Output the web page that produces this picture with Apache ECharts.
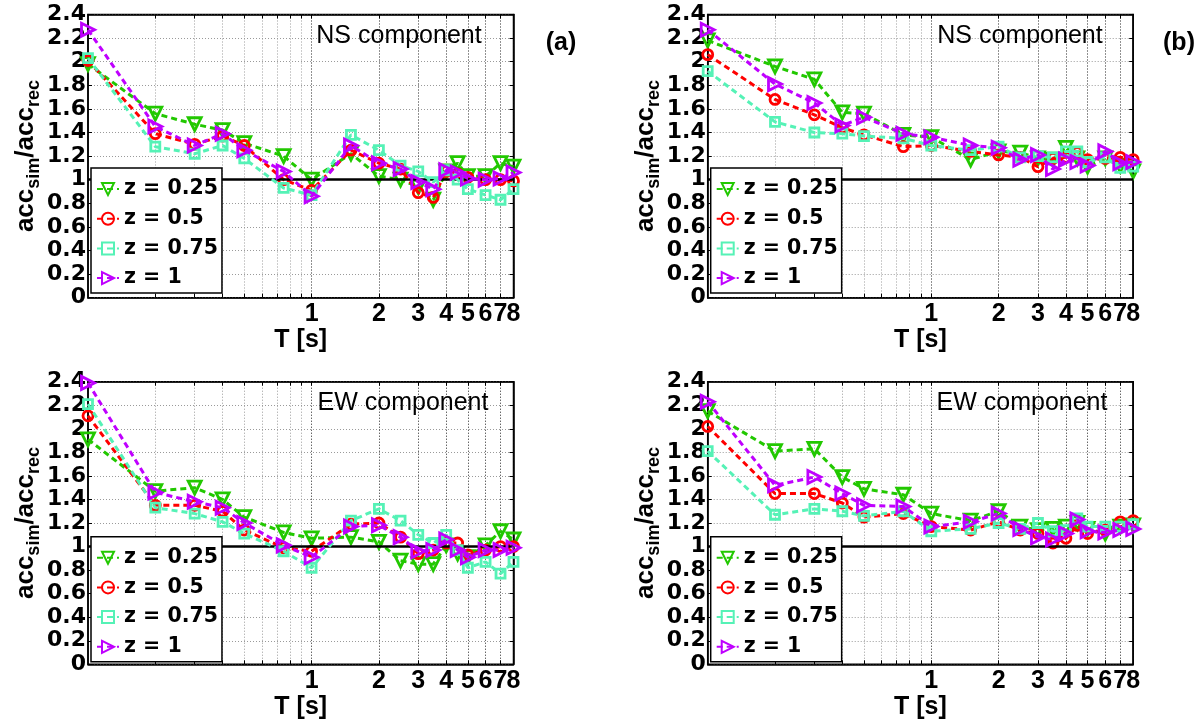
<!DOCTYPE html>
<html>
<head>
<meta charset="utf-8">
<script src="https://cdn.jsdelivr.net/npm/echarts@6/dist/echarts.min.js"></script>
<style>
html,body{margin:0;padding:0;background:#fff;}
#c{width:1204px;height:722px;}
</style>
</head>
<body>
<div id="c"></div>
<script>
// ---------------- data ----------------
const periods = [0.1, 0.2, 0.3, 0.4, 0.5, 0.75, 1, 1.5, 2, 2.5, 3, 3.5, 4, 4.5, 5, 6, 7, 8];
const seriesNames = ['z = 0.25', 'z = 0.5', 'z = 0.75', 'z = 1'];
const xTickLabels = [1, 2, 3, 4, 5, 6, 7, 8];
const xGridValues = [0.2, 0.3, 0.4, 0.5, 0.6, 0.7, 0.8, 0.9, 1, 2, 3, 4, 5, 6, 7, 8];
const panelTitles = ['NS component', 'NS component', 'EW component', 'EW component'];
const panelTags = ['(a)', '(b)', '', ''];

// panel (a) NS
const nsA_z025 = [1.98, 1.56, 1.47, 1.42, 1.31, 1.20, 1.00, 1.22, 1.03, 1.00, 0.94, 0.83, 1.07, 1.14, 1.03, 1.03, 1.14, 1.11];
const nsA_z050 = [2.01, 1.39, 1.30, 1.37, 1.29, 1.00, 0.91, 1.25, 1.14, 1.09, 0.89, 0.85, 1.07, 1.05, 1.02, 1.00, 1.00, 0.99];
const nsA_z075 = [2.03, 1.28, 1.22, 1.29, 1.18, 0.93, 0.87, 1.38, 1.25, 1.12, 1.07, 0.98, 1.08, 1.00, 0.92, 0.87, 0.83, 0.92];
const nsA_z100 = [2.27, 1.45, 1.29, 1.39, 1.25, 1.07, 0.86, 1.29, 1.14, 1.09, 0.98, 0.92, 1.08, 1.06, 1.01, 1.00, 1.01, 1.06];
// panel (b) NS
const nsB_z025 = [2.18, 1.96, 1.85, 1.57, 1.56, 1.38, 1.36, 1.17, 1.24, 1.23, 1.18, 1.17, 1.27, 1.18, 1.11, 1.18, 1.12, 1.07];
const nsB_z050 = [2.06, 1.68, 1.55, 1.44, 1.38, 1.28, 1.29, 1.24, 1.21, 1.19, 1.11, 1.18, 1.19, 1.23, 1.17, 1.18, 1.19, 1.17];
const nsB_z075 = [1.92, 1.49, 1.40, 1.39, 1.37, 1.35, 1.29, 1.25, 1.28, 1.19, 1.20, 1.19, 1.24, 1.24, 1.15, 1.19, 1.10, 1.11];
const nsB_z100 = [2.27, 1.81, 1.65, 1.46, 1.53, 1.39, 1.36, 1.29, 1.27, 1.17, 1.21, 1.09, 1.17, 1.15, 1.12, 1.24, 1.14, 1.15];
// panel (c) EW
const ewA_z025 = [1.91, 1.47, 1.50, 1.40, 1.25, 1.12, 1.07, 1.08, 1.04, 0.88, 0.85, 0.85, 1.01, 0.94, 0.91, 1.01, 1.13, 1.06];
const ewA_z050 = [2.11, 1.35, 1.35, 1.30, 1.14, 0.99, 0.96, 1.19, 1.20, 1.08, 0.94, 0.97, 1.03, 1.03, 0.93, 0.97, 1.00, 1.00];
const ewA_z075 = [2.21, 1.33, 1.28, 1.21, 1.11, 0.96, 0.82, 1.22, 1.32, 1.22, 1.10, 1.03, 1.10, 0.97, 0.82, 0.87, 0.77, 0.87];
const ewA_z100 = [2.39, 1.46, 1.38, 1.33, 1.20, 1.01, 0.91, 1.17, 1.18, 1.08, 0.96, 0.97, 1.06, 0.97, 0.91, 0.97, 0.97, 0.99];
// panel (d) EW
const ewB_z025 = [2.15, 1.81, 1.83, 1.59, 1.49, 1.44, 1.28, 1.22, 1.30, 1.17, 1.14, 1.15, 1.17, 1.20, 1.15, 1.11, 1.17, 1.18];
const ewB_z050 = [2.02, 1.45, 1.45, 1.37, 1.25, 1.28, 1.17, 1.14, 1.21, 1.14, 1.11, 1.03, 1.07, 1.18, 1.11, 1.14, 1.21, 1.22];
const ewB_z075 = [1.81, 1.27, 1.32, 1.30, 1.26, 1.30, 1.13, 1.15, 1.20, 1.15, 1.20, 1.13, 1.14, 1.24, 1.17, 1.17, 1.17, 1.19];
const ewB_z100 = [2.23, 1.52, 1.59, 1.45, 1.35, 1.34, 1.17, 1.21, 1.28, 1.15, 1.08, 1.06, 1.11, 1.23, 1.13, 1.12, 1.14, 1.15];

const panelData = [
  [nsA_z025, nsA_z050, nsA_z075, nsA_z100],
  [nsB_z025, nsB_z050, nsB_z075, nsB_z100],
  [ewA_z025, ewA_z050, ewA_z075, ewA_z100],
  [ewB_z025, ewB_z050, ewB_z075, ewB_z100]
];

// ---------------- styling ----------------
const colors = ['#22c800', '#ff0000', '#55f2b6', '#bf00ff'];
const symbols = ['triangle', 'circle', 'rect', 'triangle'];
const symbolRot = [180, 0, 0, -90];
const symbolSizes = [13, 10, 9, 13];

const gridLefts = [88, 707.7, 88, 707.7];
const gridTops = [14.5, 14.5, 381.7, 381.7];
const gridW = 425.5;
const gridHs = [283.2, 283.2, 282.6, 282.6];
const titlePos = [[399, 36], [1020, 36], [403, 403], [1022, 403]];
const tagPos = [[561, 43], [1179, 43]];
const legendPos = [[91, 168], [710.7, 168], [91, 536.7], [710.7, 536.7]];

const labFont = 'DejaVu Sans';
const helv = 'Liberation Sans';
const vGridColors = [];
for (let i = 0; i < 8; i++) vGridColors.push('#9a9a9a');
for (let i = 0; i < 8; i++) vGridColors.push('#222');

const xLabelStyle = {color: '#000', fontFamily: helv, fontWeight: 'bold', fontSize: 25};
const labelFmt = v => String(Math.round(Math.pow(10, v)));
// the last two labels touch each other, so the last one sits on its own axis
const xLabelsMain = xTickLabels.slice(0, -1);
const xLabelsLast = xTickLabels.slice(-1);

const grids = [], xAxes = [], yAxes = [], series = [], legends = [], graphics = [];
const X_PER_PANEL = 4;

for (let p = 0; p < 4; p++) {
  grids.push({
    left: gridLefts[p], top: gridTops[p], width: gridW, height: gridHs[p],
    show: true, borderColor: '#000', borderWidth: 1.5, backgroundColor: '#fff', containLabel: false
  });
  // data axis (log scale) used by series
  xAxes.push({
    type: 'log', logBase: 10, gridIndex: p, position: 'bottom', min: 0.1, max: 8, show: false
  });
  // tick / label axis in log10 space
  xAxes.push({
    type: 'value', gridIndex: p, position: 'bottom', min: -1, max: Math.log10(8),
    axisLine: {show: true, onZero: false, lineStyle: {color: '#000', width: 1.5}},
    axisTick: {show: true, inside: true, length: 4, customValues: xGridValues.map(Math.log10), lineStyle: {color: '#000', width: 1}},
    axisLabel: Object.assign({
      show: true, customValues: xLabelsMain.map(Math.log10), margin: 4,
      showMinLabel: true, formatter: labelFmt
    }, xLabelStyle),
    splitLine: {show: true, lineStyle: {color: vGridColors, type: [1, 2], width: 1}},
    name: 'T [s]', nameLocation: 'middle', nameGap: 19,
    nameTextStyle: {color: '#000', fontFamily: helv, fontWeight: 'bold', fontSize: 25}
  });
  // extra label axis for the last tick label
  xAxes.push({
    type: 'value', gridIndex: p, position: 'bottom', min: -1, max: Math.log10(8),
    axisLine: {show: false, onZero: false},
    axisTick: {show: false, customValues: xLabelsLast.map(Math.log10)},
    axisLabel: Object.assign({
      show: true, customValues: xLabelsLast.map(Math.log10), margin: 4,
      showMaxLabel: true, formatter: labelFmt
    }, xLabelStyle),
    splitLine: {show: false}
  });
  // top ticks
  xAxes.push({
    type: 'value', gridIndex: p, position: 'top', min: -1, max: Math.log10(8),
    axisLine: {show: true, onZero: false, lineStyle: {color: '#000', width: 1.5}},
    axisTick: {show: true, inside: true, length: 4, customValues: xGridValues.map(Math.log10), lineStyle: {color: '#000'}},
    axisLabel: {show: false}, splitLine: {show: false}
  });
  yAxes.push({
    type: 'value', gridIndex: p, position: 'left', min: 0, max: 2.4, interval: 0.2,
    axisLine: {show: true, onZero: false, lineStyle: {color: '#000', width: 1.5}},
    axisTick: {show: true, inside: true, length: 4, lineStyle: {color: '#000'}},
    axisLabel: {
      margin: 2, color: '#000', fontFamily: labFont, fontWeight: 'bold', fontSize: 22,
      formatter: v => String(Math.round(v * 10) / 10)
    },
    splitLine: {show: true, lineStyle: {color: '#9a9a9a', type: [1, 2], width: 1}},
    name: '{m|acc}{s|sim}{m|/acc}{s|rec}', nameLocation: 'middle', nameRotate: 90, nameGap: 43,
    nameTextStyle: {
      color: '#000',
      rich: {
        m: {fontFamily: helv, fontWeight: 'bold', fontSize: 26, lineHeight: 34, color: '#000'},
        s: {fontFamily: helv, fontWeight: 'bold', fontSize: 18, lineHeight: 12, verticalAlign: 'bottom', color: '#000'}
      }
    }
  });
  yAxes.push({
    type: 'value', gridIndex: p, position: 'right', min: 0, max: 2.4, interval: 0.2,
    axisLine: {show: true, onZero: false, lineStyle: {color: '#000', width: 1.5}},
    axisTick: {show: true, inside: true, length: 4, lineStyle: {color: '#000'}},
    axisLabel: {show: false}, splitLine: {show: false}
  });

  for (let s = 0; s < 4; s++) {
    const vals = panelData[p][s];
    const ser = {
      type: 'line', name: seriesNames[s],
      xAxisIndex: p * X_PER_PANEL, yAxisIndex: p * 2,
      data: periods.map((t, i) => [t, vals[i]]),
      symbol: symbols[s], symbolSize: symbolSizes[s], symbolRotate: symbolRot[s],
      showAllSymbol: true, clip: false,
      lineStyle: {color: colors[s], width: 3, type: [6, 4]},
      itemStyle: {color: 'rgba(255,255,255,0)', borderColor: colors[s], borderWidth: 2.8},
      emphasis: {disabled: true},
      z: 3 + s
    };
    if (s === 0) {
      ser.markLine = {
        silent: true, symbol: 'none', animation: false,
        label: {show: false},
        lineStyle: {color: '#000', width: 2.5, type: 'solid'},
        data: [{yAxis: 1}]
      };
    }
    series.push(ser);
  }

  legends.push({
    data: seriesNames, orient: 'vertical',
    left: legendPos[p][0], top: legendPos[p][1],
    itemWidth: 22, itemHeight: 15, itemGap: 7.7,
    padding: [10, 4, 4, 5],
    borderColor: '#000', borderWidth: 1.5, backgroundColor: '#fff',
    selectedMode: false, z: 10,
    textStyle: {color: '#000', fontFamily: labFont, fontWeight: 'bold', fontSize: 20.5, lineHeight: 22}
  });

  graphics.push({
    type: 'text', x: titlePos[p][0], y: titlePos[p][1], z: 20,
    style: {text: panelTitles[p], fill: '#000', font: 'normal 25px "Liberation Sans"', align: 'center', verticalAlign: 'middle'}
  });
  if (panelTags[p]) {
    graphics.push({
      type: 'text', x: tagPos[p][0], y: tagPos[p][1], z: 20,
      style: {text: panelTags[p], fill: '#000', font: 'bold 25px "Liberation Sans"', align: 'center', verticalAlign: 'middle'}
    });
  }
}

const chart = echarts.init(document.getElementById('c'), null, {renderer: 'canvas'});
chart.setOption({
  animation: false,
  backgroundColor: '#fff',
  grid: grids, xAxis: xAxes, yAxis: yAxes, series: series, legend: legends, graphic: graphics
});
</script>
</body>
</html>
